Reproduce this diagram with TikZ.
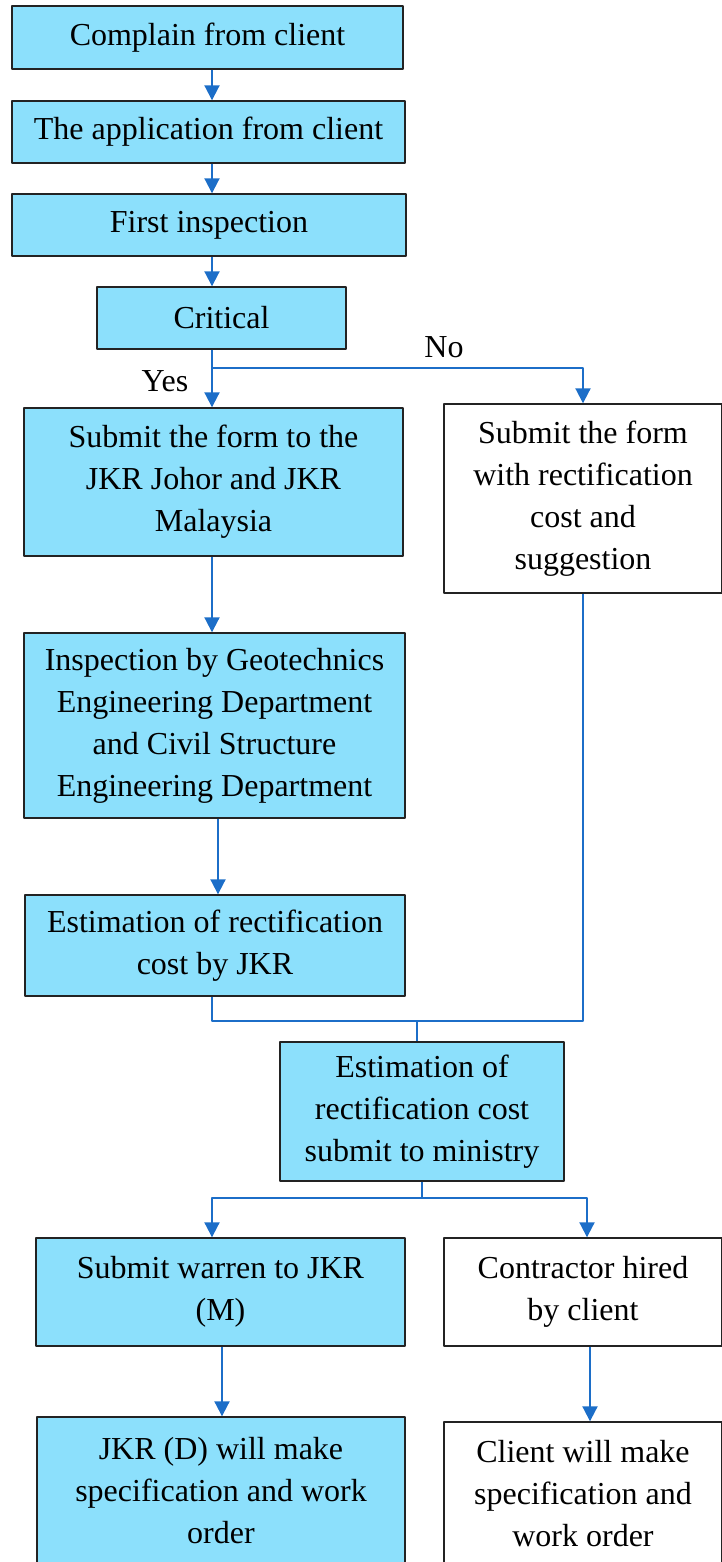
\documentclass[tikz,border=0pt]{standalone}
\usepackage{fontspec}
\setmainfont{Liberation Serif}
\usepackage{tikz}
\usetikzlibrary{calc, arrows.meta}

\definecolor{boxblue}{RGB}{140,224,252}
\definecolor{flowblue}{RGB}{28,110,200}
\definecolor{edge}{RGB}{35,35,35}
\def\px{0.5pt}

\begin{document}
\begin{tikzpicture}[
	% one unit = one pixel of the reference, y pointing down
	x = 0.5pt, y = -0.5pt,
	line join = round,
	% box styles
	%	a. size in pixels: #1 width, #2 height
	size/.style 2 args = {
		minimum width = #1*\px,
		minimum height = #2*\px
	},
	%	b. blue step
	stepbox/.style = {
		draw = edge, line width = 0.7pt,
		fill = boxblue,
		align = center, inner sep = 0pt,
		font = \fontsize{16}{21}\selectfont
	},
	%	c. white step
	plainbox/.style = {
		stepbox, fill = white
	},
	% connectors
	line/.style = {
		draw = flowblue, line width = 1pt
	},
	flow/.style = {
		line,
		arrows = -{Triangle[length = 7.5pt, width = 7.5pt]}
	},
	lbl/.style = {
		font = \fontsize{16}{21}\selectfont
	},
]

	% picture margins
	\useasboundingbox (0,0) rectangle (722,1562);

	% main column
	\node[stepbox, size = {391}{63}] (complain) at (207.5,37.5)
		{Complain from client};
	\node[stepbox, size = {393}{62}] (appl) at (208.5,132)
		{The application from client};
	\node[stepbox, size = {394}{62}] (first) at (209,225)
		{First inspection};
	\node[stepbox, size = {249}{62}] (crit) at (221.5,318)
		{Critical};

	% yes branch
	\node[stepbox, size = {379}{148}] (submit) at (213.5,482)
		{Submit the form to the\\JKR Johor and JKR\\Malaysia};
	\node[stepbox, size = {381}{185}] (geo) at (214.5,725.5)
		{Inspection by Geotechnics\\Engineering Department\\and Civil Structure\\Engineering Department};
	\node[stepbox, size = {380}{101}] (estjkr) at (215,945.5)
		{Estimation of rectification\\cost by JKR};

	% no branch
	\node[plainbox, size = {278}{189}] (suggest) at (583,498.5)
		{Submit the form\\with rectification\\cost and\\suggestion};

	% after both branches
	\node[stepbox, size = {284}{139}] (ministry) at (422,1111.5)
		{Estimation of\\rectification cost\\submit to ministry};
	\node[stepbox, size = {369}{108}] (warren) at (220.5,1292)
		{Submit warren to JKR\\(M)};
	\node[plainbox, size = {278}{108}] (hired) at (583,1292)
		{Contractor hired\\by client};
	\node[stepbox, size = {368}{148}] (jkrd) at (221,1491)
		{JKR (D) will make\\specification and work\\order};
	\node[plainbox, size = {278}{144}] (clientspec) at (583,1494)
		{Client will make\\specification and\\work order};

	% junction points
	\coordinate (split) at (212,368);	% yes / no split
	\coordinate (merge) at (417,1021);	% branches join
	\coordinate (fork) at (422,1198);	% last split
	\coordinate (forkl) at (212,1198);
	\coordinate (forkr) at (587,1198);

	% arrows of the main column
	\draw[flow] (complain.south -| 212,0) -- (appl.north -| 212,0);
	\draw[flow] (appl.south -| 212,0) -- (first.north -| 212,0);
	\draw[flow] (first.south -| 212,0) -- (crit.north -| 212,0);

	% yes / no
	\draw[flow] (crit.south -| split) -- (submit.north -| split);
	\draw[flow] (split) -| (suggest.north);
	\node[lbl] (no) at (444,347) {No};
	\node[lbl] (yes) at (165,381) {Yes};

	\draw[flow] (submit.south -| split) -- (geo.north -| split);
	\draw[flow] (geo.south -| 218,0) -- (estjkr.north -| 218,0);

	% branches join
	\draw[line] (estjkr.south -| split) |- (merge) -| (suggest.south);
	\draw[line] (merge) -- (ministry.north -| merge);

	% last split
	\draw[line] (ministry.south) -- (fork);
	\draw[flow] (fork) -| (warren.north -| forkl);
	\draw[flow] (fork) -| (hired.north -| forkr);
	\draw[flow] (warren.south -| 222,0) -- (jkrd.north -| 222,0);
	\draw[flow] (hired.south -| 590,0) -- (clientspec.north -| 590,0);

\end{tikzpicture}
\end{document}
